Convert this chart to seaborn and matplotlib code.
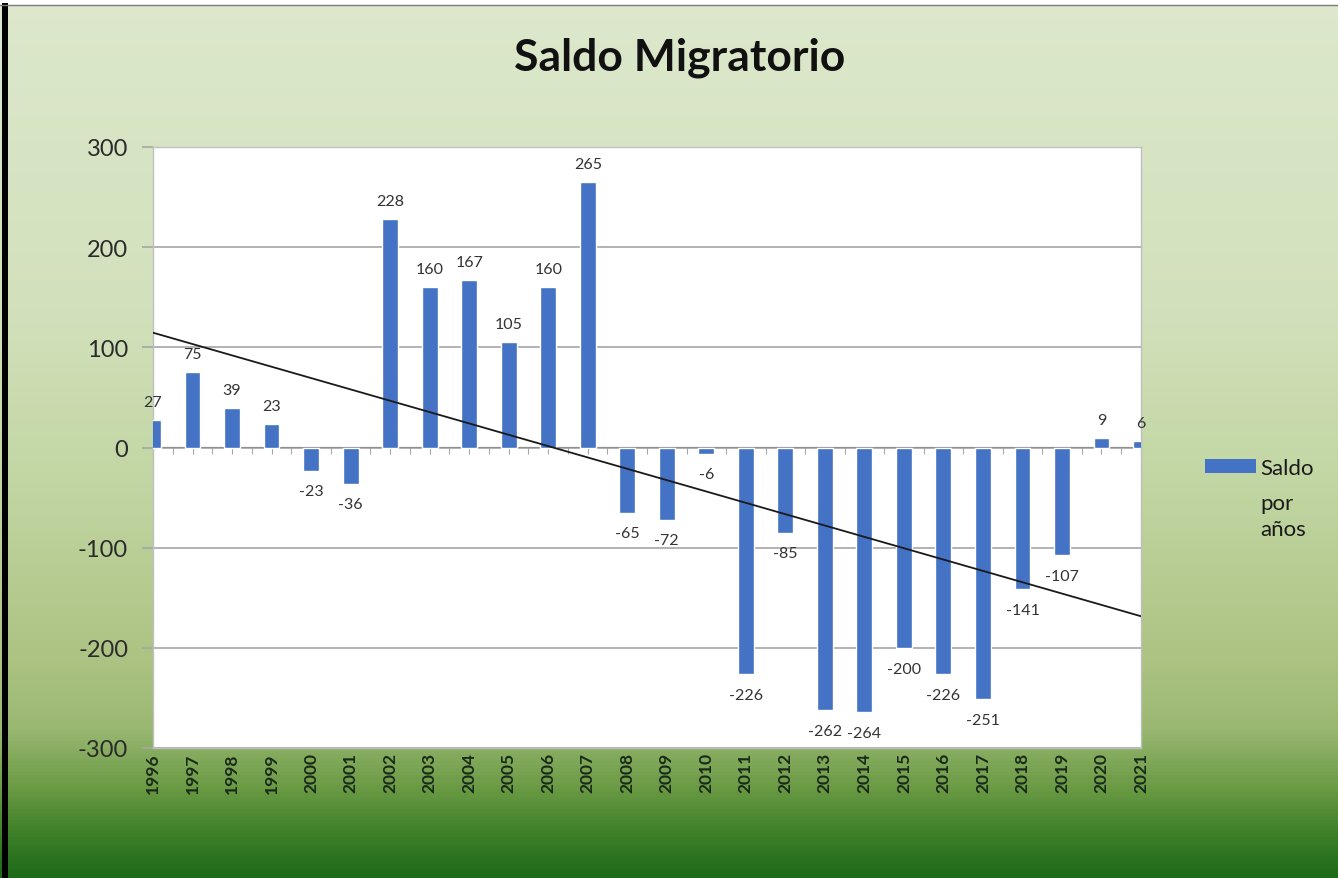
import numpy as np
import pandas as pd
import matplotlib.pyplot as plt
import seaborn as sns
from matplotlib.colors import LinearSegmentedColormap
from matplotlib.patches import Rectangle

# datos del gráfico
anios = [str(a) for a in range(1996, 2022)]
saldo = [27, 75, 39, 23, -23, -36, 228, 160, 167, 105, 160, 265, -65, -72, -6,
         -226, -85, -262, -264, -200, -226, -251, -141, -107, 9, 6]
y_ticks = [-300, -200, -100, 0, 100, 200, 300]

df = pd.DataFrame({"anio": anios, "saldo": saldo})

sns.set_style("white")
plt.rcParams["font.family"] = ["Lato", "DejaVu Sans"]
plt.rcParams["axes.unicode_minus"] = False

fig = plt.figure(figsize=(13.38, 8.79), dpi=100)

# fondo degradado verde (claro arriba, oscuro abajo)
bg = fig.add_axes([0, 0, 1, 1], zorder=-10)
cmap = LinearSegmentedColormap.from_list("fondo", [
    (0.00, "#dde8cc"), (0.35, "#d2e1bc"), (0.55, "#c2d6a3"), (0.75, "#adc383"),
    (0.83, "#9ab872"), (0.90, "#6a9a44"), (0.95, "#3f8029"), (1.00, "#1d6a18")])
bg.imshow(np.linspace(0, 1, 256).reshape(-1, 1), aspect="auto", cmap=cmap,
          extent=[0, 1, 0, 1], origin="upper")
bg.axis("off")

# franja blanca arriba y borde negro a la izquierda
fig.patches.append(Rectangle((0, 1 - 6 / 879), 1, 6 / 879, transform=fig.transFigure,
                             facecolor="white", edgecolor="none", zorder=-5))
fig.lines.append(plt.Line2D([0, 1], [1 - 6 / 879] * 2, transform=fig.transFigure,
                            color="#7a7a7a", lw=1))
fig.patches.append(Rectangle((2 / 1338, 0), 6 / 1338, 1 - 4 / 879, transform=fig.transFigure,
                             facecolor="black", edgecolor="none"))

ax = fig.add_axes([153 / 1338, 1 - 749 / 879, (1141 - 153) / 1338, (749 - 148) / 879])
ax.set_facecolor("white")

sns.barplot(data=df, x="anio", y="saldo", color="#4472C4", width=0.4,
            saturation=1, ax=ax, zorder=3)

# línea de tendencia lineal
xs = np.arange(len(saldo))
m, b = np.polyfit(xs, saldo, 1)
ax.plot(xs, m * xs + b, color="#1a1a1a", lw=1.3, zorder=4)

ax.set_xlim(0, len(saldo) - 1)
ax.set_ylim(-300, 300)
ax.set_yticks(y_ticks)
ax.grid(axis="y", color="#a6a6a6", lw=1.2, zorder=0)
ax.set_xlabel("")
ax.set_ylabel("")

for sp in ax.spines.values():
    sp.set_color("#bfbfbf")
    sp.set_linewidth(1)

ax.tick_params(axis="y", labelsize=17, colors="#a6a6a6", labelcolor="#2b2b2b",
               length=8, width=1.2, left=True, pad=10)
ax.tick_params(axis="x", labelsize=12.5, labelcolor="#1a2a1a", rotation=90,
               length=0, pad=3)
for t in ax.get_xticklabels():
    t.set_fontweight("bold")

# eje horizontal en cero con marcas hacia arriba
sec = ax.secondary_xaxis(0.5)
sec.set_xticks(np.arange(0, len(saldo) - 0.5, 0.5))
sec.set_xticklabels([])
sec.tick_params(direction="in", length=5, color="#a6a6a6")
sec.spines["bottom"].set_color("#a6a6a6")
sec.spines["bottom"].set_linewidth(1.5)

# etiquetas de datos
for i, v in enumerate(saldo):
    off = 13 if v >= 0 else -15
    ax.annotate(str(v), (i, v), xytext=(0, off), textcoords="offset points",
                ha="center", va="center", fontsize=11.5, color="#333333",
                annotation_clip=False, zorder=5)

fig.text(680 / 1338, 1 - 58 / 879, "Saldo Migratorio", ha="center", va="center",
         fontsize=32, fontweight="bold", color="#111111")

handle = Rectangle((0, 0), 1, 1, facecolor="#4472C4", edgecolor="none")
fig.legend(handles=[handle], labels=["Saldo"], loc="center left",
           bbox_to_anchor=(1205 / 1338, 1 - 469 / 879), frameon=False,
           borderpad=0, borderaxespad=0, fontsize=16, handlelength=2.3,
           handleheight=0.55, handletextpad=0.2, labelcolor="#1a1a1a")
fig.text(1260 / 1338, 1 - 494 / 879, "por\naños", ha="left", va="top",
         fontsize=16, color="#1a1a1a", linespacing=1.4)

fig.savefig("out.png", dpi=100)
